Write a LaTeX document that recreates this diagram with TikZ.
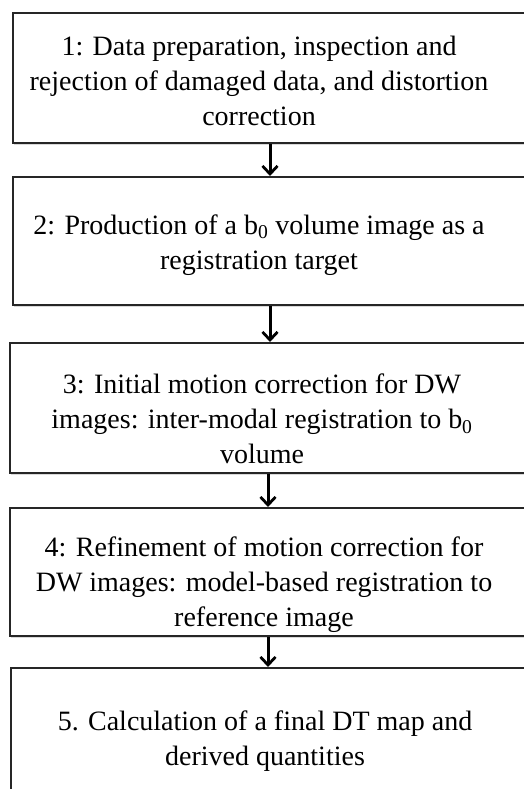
\documentclass[tikz,border=0pt]{standalone}
\usepackage{fontspec}
\setmainfont{Liberation Serif}
\usetikzlibrary{arrows.meta,shadows}
\tikzset{
  stagebox/.style={draw=black!85, line width=1.8pt, fill=white, rectangle,
    minimum width=540pt, minimum height=130pt, anchor=north west, inner sep=0pt,
    drop shadow={shadow xshift=1pt, shadow yshift=-2.5pt, opacity=0.25, fill=black!60}},
  stagetext/.style={align=center, inner sep=0pt,
    font=\fontsize{28pt}{35pt}\selectfont},
  flow/.style={line width=3pt, -{Straight Barb[length=8pt,width=15pt,line width=2.8pt]}}
}
\begin{document}
\begin{tikzpicture}[x=1pt,y=-1pt]
  \useasboundingbox (0,0) rectangle (523,789);
  % stage boxes (they run past the right edge of the page)
  \node[stagebox] (b1) at (12,12) {};
  \node[stagebox, minimum height=128pt] (b2) at (12,176) {};
  \node[stagebox] (b3) at (9,342) {};
  \node[stagebox, minimum height=128pt] (b4) at (9,507) {};
  \node[stagebox, minimum height=200pt] (b5) at (10,667) {};
  % stage descriptions
  \node[stagetext] (t1) at (259,81) {1: Data preparation, inspection and\\rejection of damaged data, and distortion\\correction};
  \node[stagetext] (t2) at (259,245) {2: Production of a b\textsubscript{0} volume image as a\\registration target};
  \node[stagetext] (t3) at (262,419) {3: Initial motion correction for DW\\images: inter-modal registration to b\textsubscript{0}\\volume};
  \node[stagetext] (t4) at (264,585) {4: Refinement of motion correction for\\DW images: model-based registration to\\reference image};
  \node[stagetext] (t5) at (265,741) {5. Calculation of a final DT map and\\derived quantities};
  % connectors
  \coordinate (ax1) at (270,0);
  \coordinate (ax2) at (268,0);
  \draw[flow] (b1.south -| ax1) -- (b2.north -| ax1);
  \draw[flow] (b2.south -| ax1) -- (b3.north -| ax1);
  \draw[flow] (b3.south -| ax2) -- (b4.north -| ax2);
  \draw[flow] (b4.south -| ax2) -- (b5.north -| ax2);
\end{tikzpicture}
\end{document}
